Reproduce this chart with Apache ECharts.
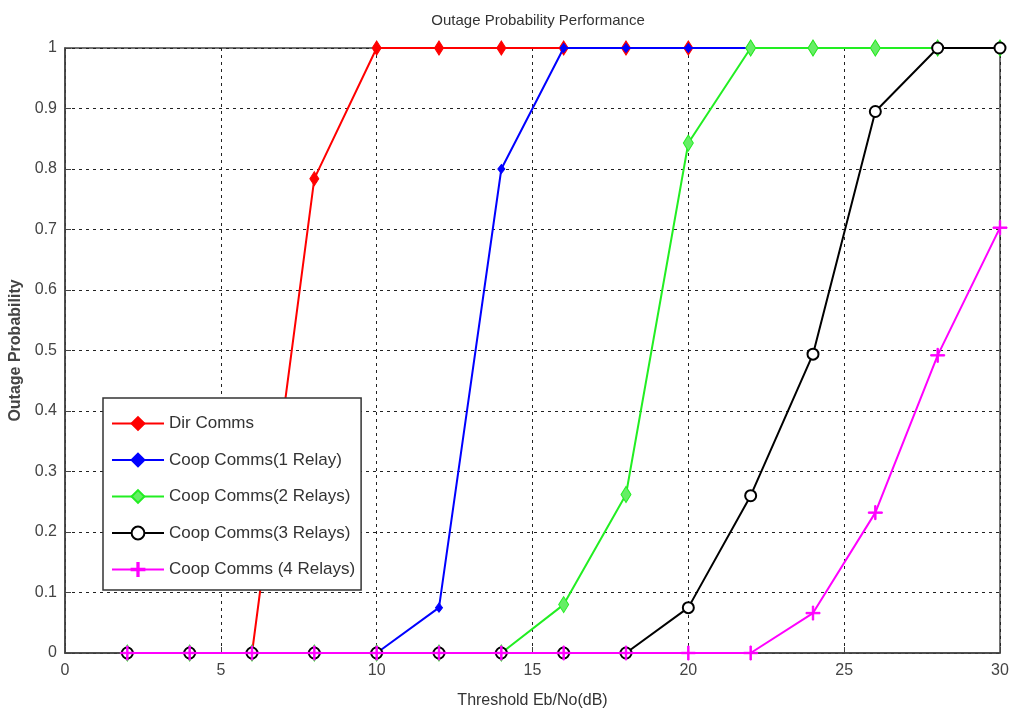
<!DOCTYPE html>
<html><head><meta charset="utf-8">
<script src="https://cdn.jsdelivr.net/npm/echarts@6/dist/echarts.min.js"></script>
<style>html,body{margin:0;padding:0;background:#fff}#c{width:1011px;height:724px}</style>
</head><body><div id="c"></div>
<script>
const xValues = [2,4,6,8,10,12,14,16,18,20,22,24,26,28,30];
const dirComms   = [0,0,0,0.784,1,1,1,1,1,1,1,1,1,1,1];
const coop1Relay = [0,0,0,0,0,0.075,0.8,1,1,1,1,1,1,1,1];
const coop2Relay = [0,0,0,0,0,0,0,0.08,0.262,0.843,1,1,1,1,1];
const coop3Relay = [0,0,0,0,0,0,0,0,0,0.075,0.26,0.494,0.895,1,1];
const coop4Relay = [0,0,0,0,0,0,0,0,0,0,0,0.066,0.232,0.492,0.703];
const seriesNames = ['Dir Comms','Coop Comms(1 Relay)','Coop Comms(2 Relays)','Coop Comms(3 Relays)','Coop Comms (4 Relays)'];
const xTicks = [0,5,10,15,20,25,30];
const yTicks = [0,0.1,0.2,0.3,0.4,0.5,0.6,0.7,0.8,0.9,1];

const FONT = '"Liberation Sans Narrow","Liberation Sans",Arial,sans-serif';
const plus = 'path://M-1,-10 L1,-10 L1,-1 L10,-1 L10,1 L1,1 L1,10 L-1,10 L-1,1 L-10,1 L-10,-1 L-1,-1 Z';
const pair = ys => xValues.map((x,i)=>[x, ys[i]]);

const styles = [
  {color:'#ff0000', symbol:'diamond', size:[9,14], data:dirComms},
  {color:'#0000ff', symbol:'diamond', size:[7,9], data:coop1Relay},
  {color:'#22ee22', symbol:'diamond', size:[10,16], data:coop2Relay, fill:'#66ee66'},
  {color:'#000000', symbol:'emptyCircle', size:11, data:coop3Relay},
  {color:'#ff00ff', symbol:plus, size:14, data:coop4Relay}
];

const chart = echarts.init(document.getElementById('c'));
chart.setOption({
  animation:false,
  backgroundColor:'#fff',
  title:{text:'Outage Probability Performance', left:533, top:8, textAlign:'center',
    textStyle:{fontFamily:FONT, fontSize:15, fontWeight:'normal', color:'#333'}},
  grid:{left:65, right:11, top:48, bottom:71, outerBoundsMode:'none', containLabel:false,
    show:true, borderColor:'#444', borderWidth:1.5, backgroundColor:'#fff'},
  legend:{orient:'vertical', left:103, top:398, padding:[17,6,12,8], itemGap:19.5,
    itemWidth:52, itemHeight:16, backgroundColor:'#fff', borderColor:'#333', borderWidth:1.5,
    textStyle:{fontFamily:FONT, fontSize:17, color:'#333'}, data:seriesNames},
  xAxis:{type:'value', min:0, max:30, interval:5,
    name:'Threshold Eb/No(dB)', nameLocation:'middle', nameGap:40,
    nameTextStyle:{fontFamily:FONT, fontSize:16, color:'#333'},
    axisLine:{show:true, lineStyle:{color:'#444', width:1.5}},
    axisTick:{show:true, inside:true, length:6, lineStyle:{color:'#444'}},
    axisLabel:{fontFamily:FONT, fontSize:16, color:'#444', margin:10, formatter:v=>xTicks.includes(v)?String(v):''},
    splitLine:{show:true, lineStyle:{color:'#222', type:[3,4], width:1}}},
  yAxis:{type:'value', min:0, max:1, interval:0.1,
    name:'Outage Probability', nameLocation:'middle', nameGap:38,
    nameTextStyle:{fontFamily:'Liberation Sans,Arial,sans-serif', fontSize:16, fontWeight:'bold', color:'#444'},
    axisLine:{show:true, lineStyle:{color:'#444', width:1.5}},
    axisTick:{show:true, inside:true, length:6, lineStyle:{color:'#444'}},
    axisLabel:{fontFamily:FONT, fontSize:16, color:'#444', margin:8,
      formatter:v=>{const r=Math.round(v*10)/10; return yTicks.includes(r)?String(r):'';}},
    splitLine:{show:true, lineStyle:{color:'#222', type:[3,4], width:1}}},
  series: styles.map((s,i)=>({
    name:seriesNames[i], type:'line', data:pair(s.data),
    symbol:s.symbol, symbolSize:s.size, showAllSymbol:true,
    lineStyle:{color:s.color, width:2},
    itemStyle:{color:s.fill||s.color, borderColor:s.color, borderWidth: s.symbol==='emptyCircle'?2:1},
    z:2+i
  }))
});
</script></body></html>
